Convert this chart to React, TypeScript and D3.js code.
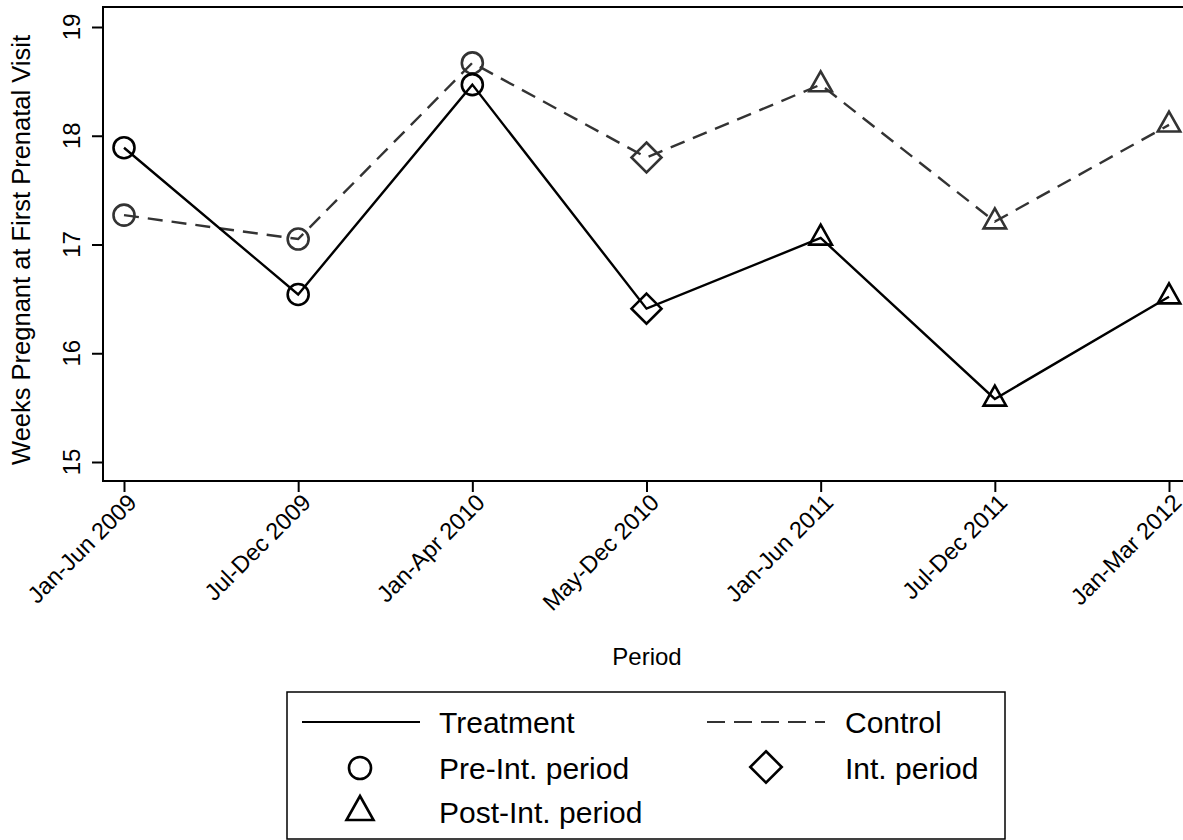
import React, { useRef, useEffect } from 'react'
import { select, scalePoint, scaleLinear, line, axisBottom, axisLeft } from 'd3'

const periods = ['Jan-Jun 2009', 'Jul-Dec 2009', 'Jan-Apr 2010', 'May-Dec 2010', 'Jan-Jun 2011', 'Jul-Dec 2011', 'Jan-Mar 2012']
const phases = ['pre', 'pre', 'pre', 'int', 'post', 'post', 'post']
const treatment = [17.89, 16.54, 18.47, 16.41, 17.06, 15.58, 16.52]
const control = [17.27, 17.05, 18.67, 17.80, 18.47, 17.21, 18.10]
const yTicks = [15, 16, 17, 18, 19]

const FONT = '"Liberation Sans", Arial, Helvetica, sans-serif'

export default function App() {
  const canvas = useRef(null)

  const W = 1183
  const H = 840
  const plot = { left: 103, top: 7, right: 1195, bottom: 481 }

  useEffect(() => {
    const svg = select(canvas.current)
    svg.selectAll('*').remove()

    const x = scalePoint().domain(periods).range([124, 1169])
    const y = scaleLinear().domain([15, 19]).range([462, 27])

    // frame
    svg.append('rect')
      .attr('x', plot.left).attr('y', plot.top)
      .attr('width', plot.right - plot.left).attr('height', plot.bottom - plot.top)
      .attr('fill', 'none').attr('stroke', '#000').attr('stroke-width', 2)

    // x axis
    const xAxis = svg.append('g').attr('transform', `translate(0,${plot.bottom})`)
      .call(axisBottom(x).tickSize(11).tickFormat(() => ''))
    xAxis.select('.domain').remove()
    xAxis.selectAll('line').attr('stroke', '#000').attr('stroke-width', 2)

    svg.append('g').selectAll('text').data(periods).enter().append('text')
      .attr('transform', d => `translate(${x(d) + 2},${plot.bottom + 11}) rotate(-45)`)
      .attr('text-anchor', 'end')
      .attr('dy', '0.72em')
      .attr('font-family', FONT).attr('font-size', 23.5)
      .text(d => d)

    // y axis
    const yAxis = svg.append('g').attr('transform', `translate(${plot.left},0)`)
      .call(axisLeft(y).tickValues(yTicks).tickSize(11).tickFormat(() => ''))
    yAxis.select('.domain').remove()
    yAxis.selectAll('line').attr('stroke', '#000').attr('stroke-width', 2)

    svg.append('g').selectAll('text').data(yTicks).enter().append('text')
      .attr('transform', d => `translate(80,${y(d)}) rotate(-90)`)
      .attr('text-anchor', 'middle')
      .attr('font-family', FONT).attr('font-size', 24)
      .text(d => d)

    // axis titles
    svg.append('text')
      .attr('transform', `translate(30,${(plot.top + plot.bottom) / 2 + 6}) rotate(-90)`)
      .attr('text-anchor', 'middle')
      .attr('font-family', FONT).attr('font-size', 25.5)
      .text('Weeks Pregnant at First Prenatal Visit')

    svg.append('text')
      .attr('x', 647).attr('y', 665)
      .attr('text-anchor', 'middle')
      .attr('font-family', FONT).attr('font-size', 24)
      .text('Period')

    const marker = (g, kind, cx, cy, color, scale = 1) => {
      if (kind === 'pre') {
        g.append('circle').attr('cx', cx).attr('cy', cy).attr('r', 10.5 * scale)
          .attr('fill', 'none').attr('stroke', color).attr('stroke-width', 2.6)
      } else if (kind === 'int') {
        const r = 15 * scale
        g.append('path').attr('d', `M${cx},${cy - r}L${cx + r},${cy}L${cx},${cy + r}L${cx - r},${cy}Z`)
          .attr('fill', 'none').attr('stroke', color).attr('stroke-width', 2.6)
      } else {
        const w = 22.5 * scale, h = 20 * scale
        g.append('path').attr('d', `M${cx},${cy - h * 2 / 3}L${cx + w / 2},${cy + h / 3}L${cx - w / 2},${cy + h / 3}Z`)
          .attr('fill', 'none').attr('stroke', color).attr('stroke-width', 2.6)
      }
    }

    const series = [
      { values: control, color: '#333', dash: '15,9' },
      { values: treatment, color: '#000', dash: null },
    ]

    const lineGen = line<number>().x((d, i) => x(periods[i])).y(d => y(d))

    series.forEach(s => {
      const g = svg.append('g')
      g.append('path').datum(s.values).attr('d', lineGen)
        .attr('fill', 'none').attr('stroke', s.color).attr('stroke-width', 2.4)
        .attr('stroke-dasharray', s.dash)
      s.values.forEach((v, i) => marker(g, phases[i], x(periods[i]), y(v), s.color))
    })

    // legend
    const lg = svg.append('g')
    lg.append('rect').attr('x', 287).attr('y', 692).attr('width', 718).attr('height', 147)
      .attr('fill', '#fff').attr('stroke', '#000').attr('stroke-width', 1.5)

    const legendText = (tx, ty, label) => lg.append('text')
      .attr('x', tx).attr('y', ty)
      .attr('font-family', FONT).attr('font-size', 30)
      .text(label)

    lg.append('line').attr('x1', 302).attr('x2', 420).attr('y1', 722).attr('y2', 722)
      .attr('stroke', '#000').attr('stroke-width', 2)
    legendText(439, 733, 'Treatment')
    lg.append('line').attr('x1', 707).attr('x2', 825).attr('y1', 722).attr('y2', 722)
      .attr('stroke', '#333').attr('stroke-width', 2).attr('stroke-dasharray', '18,9')
    legendText(845, 733, 'Control')

    marker(lg, 'pre', 360, 768, '#000', 1.05)
    legendText(439, 779, 'Pre-Int. period')
    marker(lg, 'int', 766, 767, '#000', 1.05)
    legendText(845, 779, 'Int. period')

    marker(lg, 'post', 360, 812, '#000', 1.2)
    legendText(439, 823, 'Post-Int. period')
  })

  return (
    <svg ref={canvas} width={W} height={H}
      style={{ position: 'absolute', left: 0, top: 0, background: '#fff' }} />
  )
}
